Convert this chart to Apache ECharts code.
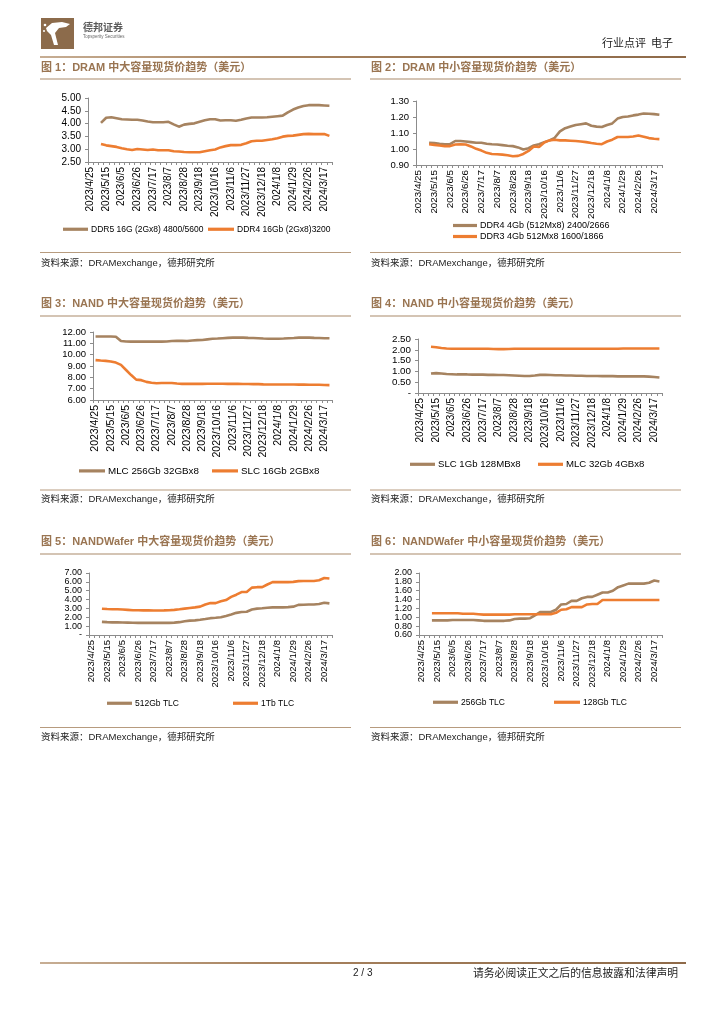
<!DOCTYPE html>
<html><head><meta charset="utf-8">
<script src="https://cdn.jsdelivr.net/npm/echarts@6/dist/echarts.min.js"></script>
<style>html,body{margin:0;padding:0;background:#fff}#c{width:724px;height:1024px}</style>
</head><body><div id="c"></div>
<script>
// ---------- data ----------
const categories = ['2023/4/25','2023/5/1','2023/5/8','2023/5/15','2023/5/22','2023/5/29','2023/6/5','2023/6/12','2023/6/19','2023/6/26','2023/7/3','2023/7/10','2023/7/17','2023/7/24','2023/7/31','2023/8/7','2023/8/14','2023/8/21','2023/8/28','2023/9/4','2023/9/11','2023/9/18','2023/9/25','2023/10/9','2023/10/16','2023/10/23','2023/10/30','2023/11/6','2023/11/13','2023/11/20','2023/11/27','2023/12/4','2023/12/11','2023/12/18','2023/12/25','2024/1/1','2024/1/8','2024/1/15','2024/1/22','2024/1/29','2024/2/5','2024/2/19','2024/2/26','2024/3/4','2024/3/11','2024/3/17','2024/3/25'];

const chartTitles = ['图 1：DRAM 中大容量现货价趋势（美元）','图 2：DRAM 中小容量现货价趋势（美元）','图 3：NAND 中大容量现货价趋势（美元）','图 4：NAND 中小容量现货价趋势（美元）','图 5：NANDWafer 中大容量现货价趋势（美元）','图 6：NANDWafer 中小容量现货价趋势（美元）'];
const sourceText = '资料来源：DRAMexchange，德邦研究所';

const c1Names = ['DDR5 16G (2Gx8) 4800/5600','DDR4 16Gb (2Gx8)3200'];
const c1A = [null,null,4.03,4.23,4.25,4.21,4.17,4.16,4.15,4.15,4.12,4.08,4.05,4.05,4.05,4.07,3.97,3.88,3.96,3.99,4.01,4.07,4.13,4.17,4.17,4.12,4.13,4.13,4.11,4.15,4.20,4.24,4.24,4.24,4.25,4.27,4.29,4.31,4.44,4.55,4.63,4.69,4.72,4.72,4.72,4.71,4.70];
const c1B = [null,null,3.20,3.15,3.12,3.09,3.04,3.00,2.97,3.01,2.99,2.97,2.99,2.96,2.96,2.96,2.92,2.91,2.89,2.88,2.88,2.88,2.92,2.96,2.99,3.07,3.12,3.16,3.16,3.17,3.23,3.31,3.33,3.33,3.36,3.39,3.43,3.49,3.52,3.53,3.56,3.59,3.60,3.59,3.59,3.59,3.52];

const c2Names = ['DDR4 4Gb (512Mx8) 2400/2666','DDR3 4Gb 512Mx8 1600/1866'];
const c2A = [null,null,1.039,1.037,1.033,1.030,1.030,1.050,1.050,1.047,1.043,1.039,1.039,1.033,1.030,1.028,1.024,1.020,1.018,1.010,0.997,1.005,1.022,1.030,1.043,1.054,1.070,1.110,1.130,1.140,1.150,1.155,1.160,1.145,1.140,1.137,1.150,1.160,1.190,1.200,1.203,1.210,1.215,1.222,1.220,1.218,1.214];
const c2B = [null,null,1.030,1.026,1.022,1.018,1.018,1.028,1.030,1.028,1.016,1.001,0.990,0.976,0.969,0.967,0.965,0.961,0.955,0.957,0.969,0.988,1.016,1.012,1.041,1.054,1.058,1.054,1.054,1.052,1.050,1.047,1.043,1.037,1.033,1.030,1.047,1.058,1.075,1.075,1.075,1.078,1.085,1.077,1.068,1.064,1.062];

const c3Names = ['MLC 256Gb 32GBx8','SLC 16Gb 2GBx8'];
const c3A = [11.60,11.60,11.60,11.60,11.58,11.20,11.16,11.15,11.15,11.15,11.15,11.15,11.15,11.15,11.16,11.20,11.22,11.22,11.20,11.25,11.28,11.30,11.35,11.40,11.42,11.45,11.48,11.50,11.50,11.50,11.48,11.47,11.45,11.42,11.40,11.40,11.40,11.42,11.45,11.47,11.50,11.50,11.50,11.48,11.47,11.45,11.45];
const c3B = [9.52,9.48,9.45,9.40,9.30,9.10,8.65,8.20,7.80,7.75,7.60,7.52,7.48,7.50,7.50,7.50,7.45,7.42,7.42,7.42,7.42,7.42,7.43,7.43,7.43,7.43,7.42,7.42,7.42,7.41,7.41,7.40,7.40,7.38,7.37,7.37,7.37,7.37,7.37,7.37,7.36,7.36,7.35,7.35,7.34,7.32,7.31];

const c4Names = ['SLC 1Gb 128MBx8','MLC 32Gb 4GBx8'];
const c4A = [null,null,0.90,0.92,0.90,0.88,0.87,0.86,0.86,0.86,0.85,0.85,0.85,0.84,0.84,0.83,0.83,0.82,0.81,0.80,0.79,0.79,0.81,0.84,0.84,0.83,0.82,0.82,0.81,0.81,0.80,0.80,0.79,0.79,0.79,0.78,0.78,0.78,0.77,0.77,0.77,0.77,0.77,0.77,0.76,0.74,0.72];
const c4B = [null,null,2.14,2.12,2.08,2.06,2.05,2.05,2.05,2.05,2.05,2.05,2.05,2.05,2.04,2.03,2.03,2.04,2.05,2.05,2.05,2.05,2.05,2.05,2.05,2.05,2.05,2.05,2.05,2.05,2.05,2.05,2.05,2.05,2.05,2.05,2.05,2.05,2.05,2.06,2.06,2.06,2.06,2.06,2.06,2.06,2.06];

const c5Names = ['512Gb TLC','1Tb TLC'];
const c5A = [null,null,1.48,1.45,1.43,1.42,1.41,1.40,1.38,1.37,1.37,1.37,1.37,1.37,1.37,1.37,1.40,1.45,1.55,1.62,1.65,1.72,1.80,1.90,1.94,2.00,2.15,2.32,2.50,2.60,2.62,2.88,2.98,3.02,3.08,3.12,3.12,3.12,3.15,3.20,3.40,3.42,3.45,3.45,3.50,3.65,3.57];
const c5B = [null,null,2.97,2.93,2.90,2.90,2.88,2.84,2.80,2.79,2.78,2.78,2.77,2.77,2.78,2.80,2.84,2.90,2.98,3.05,3.12,3.20,3.45,3.60,3.60,3.80,3.95,4.30,4.55,4.85,4.85,5.35,5.40,5.40,5.70,5.97,5.97,5.97,5.97,6.00,6.08,6.10,6.10,6.10,6.18,6.43,6.38];

const c6Names = ['256Gb TLC','128Gb TLC'];
const c6A = [null,null,0.93,0.93,0.93,0.93,0.94,0.94,0.94,0.94,0.94,0.93,0.92,0.92,0.92,0.92,0.92,0.93,0.96,0.97,0.97,0.98,1.05,1.12,1.12,1.12,1.17,1.29,1.30,1.37,1.37,1.43,1.46,1.46,1.51,1.56,1.56,1.60,1.68,1.72,1.76,1.76,1.76,1.76,1.78,1.83,1.81];
const c6B = [null,null,1.09,1.09,1.09,1.09,1.09,1.09,1.08,1.08,1.08,1.07,1.06,1.06,1.06,1.06,1.06,1.06,1.07,1.07,1.07,1.07,1.07,1.07,1.07,1.07,1.10,1.17,1.18,1.23,1.23,1.23,1.29,1.30,1.30,1.39,1.39,1.39,1.39,1.39,1.39,1.39,1.39,1.39,1.39,1.39,1.39];

// ---------- styling / layout ----------
const BROWN = '#A68360', ORANGE = '#ED7D31';
const TITLE_C = '#9A7552', RULE_C = '#A98A6A';
const FONT = "'Liberation Sans', Arial, 'Noto Sans CJK SC', sans-serif";

const panels = [
  {grid:{left:88, top:98, width:244, height:64}, y:[2.5,5,0.5], yfs:10, xfs:10, names:c1Names, data:[c1A,c1B],
   leg:[{left:63,top:225,fs:8.5,w:25},{left:208,top:225,fs:8.5,w:26}]},
  {grid:{left:416, top:101, width:246, height:64}, y:[0.9,1.3,0.1], yfs:9.5, xfs:9.8, names:c2Names, data:[c2A,c2B],
   leg:[{left:453,top:221,fs:9,w:24},{left:453,top:232,fs:9,w:24}]},
  {grid:{left:93, top:332, width:239, height:68}, y:[6,12,1], yfs:9.5, xfs:10.5, names:c3Names, data:[c3A,c3B],
   leg:[{left:79,top:466,fs:9.8,w:26},{left:212,top:466,fs:9.8,w:26}]},
  {grid:{left:418, top:339, width:244, height:54}, y:[0,2.5,0.5], yfs:9.8, xfs:10, names:c4Names, data:[c4A,c4B],
   leg:[{left:410,top:459.5,fs:9.6,w:25},{left:538,top:459.5,fs:9.6,w:25}]},
  {grid:{left:89, top:573, width:243, height:62}, y:[0,7,1], yfs:9, xfs:9.5, names:c5Names, data:[c5A,c5B],
   leg:[{left:107,top:699,fs:8.5,w:25},{left:233,top:699,fs:8.5,w:25}]},
  {grid:{left:419, top:573, width:243, height:62}, y:[0.6,2.0,0.2], yfs:9, xfs:9.5, names:c6Names, data:[c6A,c6B],
   leg:[{left:433,top:698,fs:8.5,w:25},{left:554,top:698,fs:8.5,w:26}]}
];

const rowY = [69, 305.5, 543];
const ruleY = [79, 316, 554];
const srcLineY = [252.5, 490, 727.5];
const srcY = [265, 501, 739];
const colX = [41, 371];
const colRule = [[40, 351], [370, 681]];

const grids = [], xAxes = [], yAxes = [], series = [], legends = [], titles = [];
panels.forEach((p, i) => {
  grids.push(Object.assign({containLabel:false}, p.grid));
  xAxes.push({
    type:'category', gridIndex:i, data:categories, boundaryGap:true,
    axisLine:{lineStyle:{color:'#8c8c8c', width:1}},
    axisTick:{show:true, interval:0, length:3, lineStyle:{color:'#8c8c8c'}},
    axisLabel:{interval:2, rotate:90, fontSize:p.xfs, color:'#000', margin:5, fontFamily:FONT},
    splitLine:{show:false}
  });
  yAxes.push({
    type:'value', gridIndex:i, min:p.y[0], max:p.y[1], interval:p.y[2],
    axisLine:{show:true, lineStyle:{color:'#8c8c8c', width:1}},
    axisTick:{show:true, length:3, lineStyle:{color:'#8c8c8c'}},
    axisLabel:{fontSize:p.yfs, color:'#000', margin:7, fontFamily:FONT,
      showMinLabel:true, showMaxLabel:true, hideOverlap:false,
      formatter: v => (Math.abs(v) < 1e-9 ? '-' : v.toFixed(2))},
    splitLine:{show:false}
  });
  [0,1].forEach(k => {
    series.push({
      type:'line', name:p.names[k], xAxisIndex:i, yAxisIndex:i, data:p.data[k],
      showSymbol:false, symbol:'none', smooth:false, connectNulls:false,
      lineStyle:{width:2.6, color:k===0?BROWN:ORANGE}, itemStyle:{color:k===0?BROWN:ORANGE},
      animation:false
    });
    const L = p.leg[k];
    legends.push({
      data:[p.names[k]], left:L.left, top:L.top, padding:0, itemGap:0,
      icon:'rect', itemWidth:L.w, itemHeight:3.2, selectedMode:false,
      textStyle:{fontSize:L.fs, color:'#000', fontFamily:FONT, padding:[0,0,0,-2]}
    });
  });
  const row = Math.floor(i/2), col = i%2;
  titles.push({
    text:chartTitles[i], left:colX[col], top:rowY[row]-7, padding:0,
    textStyle:{fontSize:11, fontWeight:'bold', color:TITLE_C, fontFamily:FONT}
  });
  titles.push({
    text:sourceText, left:colX[col], top:srcY[row]-6, padding:0,
    textStyle:{fontSize:9.5, fontWeight:'normal', color:'#222', fontFamily:FONT}
  });
});

// page decorations
const graphics = [];
[0,1,2].forEach(r => {
  [0,1].forEach(c => {
    graphics.push({type:'line', shape:{x1:colRule[c][0], y1:ruleY[r], x2:colRule[c][1], y2:ruleY[r]}, style:{stroke:RULE_C, lineWidth:1.2}, silent:true});
    graphics.push({type:'line', shape:{x1:colRule[c][0], y1:srcLineY[r], x2:colRule[c][1], y2:srcLineY[r]}, style:{stroke:'#B79B7E', lineWidth:1}, silent:true});
  });
});
const grad = {type:'linear', x:0, y:0, x2:1, y2:0, colorStops:[{offset:0,color:'#C7AE94'},{offset:0.35,color:'#A8835F'},{offset:1,color:'#8E6A49'}]};
graphics.push({type:'rect', shape:{x:40, y:56, width:646, height:2}, style:{fill:grad}, silent:true});
graphics.push({type:'rect', shape:{x:40, y:962, width:646, height:2}, style:{fill:grad}, silent:true});
// logo
graphics.push({type:'rect', shape:{x:41, y:18, width:33, height:31}, style:{fill:'#8C6B4B'}, silent:true});
graphics.push({type:'polygon', shape:{points:[[46,28],[52,23],[62,22],[70,24],[66,27],[59,28],[55,33],[58,45],[54,45],[51,35],[47,31]]}, style:{fill:'#ffffff'}, silent:true});
graphics.push({type:'circle', shape:{cx:45, cy:25, r:1.3}, style:{fill:'#ffffff'}, silent:true});
graphics.push({type:'circle', shape:{cx:44, cy:31, r:1}, style:{fill:'#ffffff'}, silent:true});
graphics.push({type:'text', left:83, top:22, style:{text:'德邦证券', fontSize:10, fontWeight:'bold', fill:'#5a5a5a', fontFamily:"'Noto Sans CJK SC', sans-serif"}, silent:true});
graphics.push({type:'text', left:83, top:35, style:{text:'Topsperity Securities', fontSize:4.5, fill:'#6a6a6a', fontFamily:FONT}, silent:true});
graphics.push({type:'text', left:602, top:37, style:{text:'行业点评  电子', fontSize:11, fill:'#222', fontFamily:"'Noto Sans CJK SC', sans-serif"}, silent:true});
graphics.push({type:'text', left:353, top:968, style:{text:'2 / 3', fontSize:10, fill:'#222', fontFamily:FONT}, silent:true});
graphics.push({type:'text', left:473, top:968, style:{text:'请务必阅读正文之后的信息披露和法律声明', fontSize:10.8, fill:'#222', fontFamily:"'Noto Sans CJK SC', sans-serif"}, silent:true});

const chart = echarts.init(document.getElementById('c'), null, {renderer:'canvas', width:724, height:1024});
chart.setOption({
  backgroundColor:'#ffffff',
  animation:false,
  title:titles,
  grid:grids, xAxis:xAxes, yAxis:yAxes, series:series, legend:legends,
  graphic:graphics
});
</script>
</body></html>
